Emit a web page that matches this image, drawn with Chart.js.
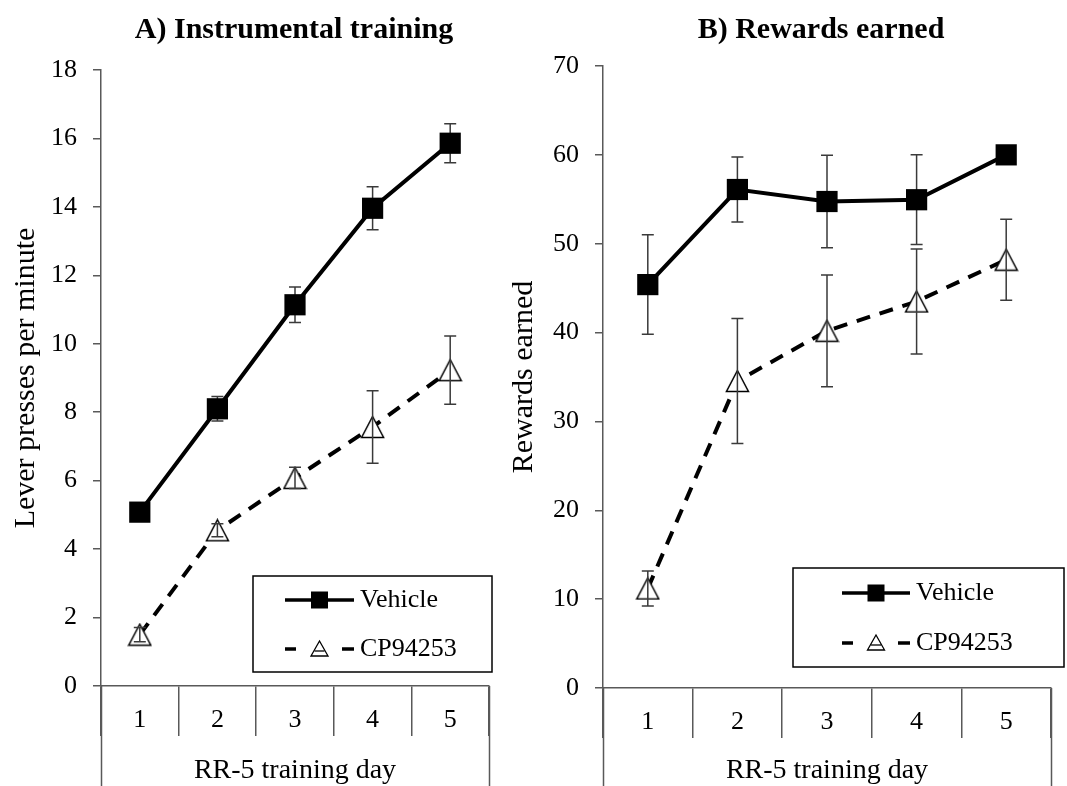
<!DOCTYPE html>
<html>
<head>
<meta charset="utf-8">
<script src="https://cdn.jsdelivr.net/npm/chart.js@4.4.1/dist/chart.umd.min.js"></script>
<style>
  html, body { margin: 0; padding: 0; background: #fff; }
  #wrap { position: relative; width: 1067px; height: 786px; overflow: hidden; }
  canvas { position: absolute; top: 0; }
  #chartA { left: 0; }
  #chartB { left: 505px; }
</style>
</head>
<body>
<div id="wrap">
  <canvas id="chartA" width="505" height="786"></canvas>
  <canvas id="chartB" width="562" height="786"></canvas>
</div>
<script>
const days = ['1', '2', '3', '4', '5'];
const seriesNames = ['Vehicle', 'CP94253'];
const xTitle = 'RR-5 training day';

// A) lever presses per minute (mean, +/- error)
const vehicleA = [5.08, 8.1, 11.14, 13.96, 15.86];
const vehicleAErr = [0.15, 0.36, 0.52, 0.63, 0.57];
const cpA = [1.5, 4.55, 6.08, 7.57, 9.23];
const cpAErr = [0.21, 0.19, 0.31, 1.06, 1.0];

// B) rewards earned
const vehicleB = [45.4, 56.1, 54.75, 54.95, 60.0];
const vehicleBErr = [5.6, 3.65, 5.2, 5.05, 0.4];
const cpB = [11.2, 34.55, 40.2, 43.5, 48.2];
const cpBErr = [1.96, 7.03, 6.29, 5.9, 4.56];

const FONT = "'Liberation Serif', 'Times New Roman', serif";
const AXIS = '#595959';
Chart.defaults.font.family = FONT;
Chart.defaults.color = '#000';

// open triangle marker, centred on its bounding box like the original
function triangleMarker(w, h, lw) {
  const c = document.createElement('canvas');
  c.width = Math.ceil(w + lw * 2);
  c.height = Math.ceil(h + lw * 2);
  const g = c.getContext('2d');
  g.beginPath();
  g.moveTo(c.width / 2, lw);
  g.lineTo(c.width - lw, lw + h);
  g.lineTo(lw, lw + h);
  g.closePath();
  g.fillStyle = '#fff';
  g.fill();
  g.lineWidth = lw;
  g.strokeStyle = '#000';
  g.stroke();
  return c;
}
const triImg = triangleMarker(22, 21, 1.5);

function drawErrors(chart, i) {
  const ds = chart.data.datasets[i];
  if (!ds.errors) return;
  const ctx = chart.ctx;
  const y = chart.scales.y;
  const meta = chart.getDatasetMeta(i);
  ctx.save();
  ctx.strokeStyle = '#3a3a3a';
  ctx.lineWidth = 1.5;
  meta.data.forEach((pt, j) => {
    const top = y.getPixelForValue(ds.data[j] + ds.errors[j]);
    const bot = y.getPixelForValue(ds.data[j] - ds.errors[j]);
    ctx.beginPath();
    ctx.moveTo(pt.x, top); ctx.lineTo(pt.x, bot);
    ctx.moveTo(pt.x - 6, top); ctx.lineTo(pt.x + 6, top);
    ctx.moveTo(pt.x - 6, bot); ctx.lineTo(pt.x + 6, bot);
    ctx.stroke();
  });
  ctx.restore();
}

// filled markers hide their bars, open markers show them
const errorBars = {
  id: 'errorBars',
  beforeDatasetDraw(chart, args) {
    if (chart.data.datasets[args.index].errorsBehind) drawErrors(chart, args.index);
  },
  afterDatasetDraw(chart, args) {
    if (!chart.data.datasets[args.index].errorsBehind) drawErrors(chart, args.index);
  }
};

// left / right frame lines run down past the category labels
const frameLines = {
  id: 'frameLines',
  afterDraw(chart) {
    const { ctx, chartArea: a } = chart;
    ctx.save();
    ctx.strokeStyle = AXIS;
    ctx.lineWidth = 1.5;
    ctx.beginPath();
    [a.left, a.right].forEach(x => {
      ctx.moveTo(Math.round(x) + 0.5, a.bottom);
      ctx.lineTo(Math.round(x) + 0.5, chart.height);
    });
    ctx.stroke();
    ctx.restore();
  }
};

const panelTitle = {
  id: 'panelTitle',
  afterDraw(chart, args, o) {
    const ctx = chart.ctx;
    ctx.save();
    ctx.font = 'bold 30px ' + FONT;
    ctx.fillStyle = '#000';
    ctx.textAlign = 'center';
    ctx.textBaseline = 'middle';
    ctx.fillText(o.text, o.x, o.y);
    ctx.restore();
  }
};

const boxLegend = {
  id: 'boxLegend',
  afterDraw(chart, args, o) {
    const ctx = chart.ctx;
    ctx.save();
    ctx.strokeStyle = '#000';
    ctx.lineWidth = 1.5;
    ctx.strokeRect(o.left, o.top, o.right - o.left, o.bottom - o.top);
    chart.data.datasets.forEach((ds, i) => {
      const y = o.rows[i];
      const mid = (o.x0 + o.x1) / 2;
      ctx.strokeStyle = '#000';
      ctx.lineWidth = 3.5;
      ctx.beginPath();
      if (ds.borderDash) {
        ctx.moveTo(o.x0, y); ctx.lineTo(o.x0 + 11, y);
        ctx.moveTo(o.x1 - 12, y); ctx.lineTo(o.x1, y);
      } else {
        ctx.moveTo(o.x0, y); ctx.lineTo(o.x1, y);
      }
      ctx.stroke();
      if (ds.pointStyle === 'rect') {
        ctx.fillStyle = '#000';
        ctx.fillRect(mid - 8.5, y - 8.5, 17, 17);
      } else {
        ctx.beginPath();
        ctx.moveTo(mid, y - 8);
        ctx.lineTo(mid + 8.5, y + 7);
        ctx.lineTo(mid - 8.5, y + 7);
        ctx.closePath();
        ctx.fillStyle = '#fff';
        ctx.fill();
        ctx.lineWidth = 1.3;
        ctx.stroke();
        ctx.beginPath();
        ctx.moveTo(mid - 5, y + 2);
        ctx.lineTo(mid + 5, y + 2);
        ctx.stroke();
      }
      ctx.fillStyle = '#000';
      ctx.font = '26px ' + FONT;
      ctx.textBaseline = 'middle';
      ctx.textAlign = 'left';
      ctx.fillText(ds.label, o.textX, y);
    });
    ctx.restore();
  }
};

function makeChart(id, p) {
  return new Chart(document.getElementById(id), {
    type: 'line',
    data: {
      labels: days,
      datasets: [
        {
          label: seriesNames[0],
          data: p.vehicle,
          errors: p.vehicleErr,
          errorsBehind: true,
          borderColor: '#000',
          borderWidth: 4,
          tension: 0,
          pointStyle: 'rect',
          pointRadius: 15,
          pointBackgroundColor: '#000',
          pointBorderColor: '#000',
          pointBorderWidth: 0
        },
        {
          label: seriesNames[1],
          data: p.cp,
          errors: p.cpErr,
          borderColor: '#000',
          borderWidth: 4,
          borderDash: [14, 10],
          tension: 0,
          pointStyle: triImg,
          pointRadius: 12
        }
      ]
    },
    options: {
      responsive: false,
      animation: false,
      layout: { padding: { top: p.top, right: p.right, left: 0, bottom: 0 } },
      scales: {
        x: {
          type: 'category',
          offset: true,
          grid: { offset: true, drawOnChartArea: false, drawTicks: true, tickLength: 50, color: AXIS, lineWidth: 1.5 },
          border: { display: true, color: AXIS, width: 1.5 },
          ticks: { font: { size: 26 }, color: '#000', padding: -31, maxRotation: 0, autoSkip: false },
          title: { display: true, text: xTitle, color: '#000', font: { size: 28, lineHeight: 1 }, padding: { top: 0, bottom: 1 } },
          afterFit: s => { s.height = p.axisH; }
        },
        y: {
          min: p.min,
          max: p.max,
          ticks: { stepSize: p.step, font: { size: 26 }, color: '#000', padding: 16 },
          grid: { drawOnChartArea: false, drawTicks: true, tickLength: 8, color: AXIS, lineWidth: 1.5 },
          border: { display: true, color: AXIS, width: 1.5 },
          title: { display: true, text: p.yTitle, color: '#000', font: { size: 30, lineHeight: 1.2 }, padding: { top: p.yTitlePad, bottom: 0 } },
          afterFit: s => { s.width = p.axisW; }
        }
      },
      plugins: {
        legend: { display: false },
        tooltip: { enabled: false },
        panelTitle: { text: p.title, x: p.titleX, y: 30 },
        boxLegend: p.legend
      }
    },
    plugins: [errorBars, frameLines, panelTitle, boxLegend]
  });
}

makeChart('chartA', {
  vehicle: vehicleA, vehicleErr: vehicleAErr, cp: cpA, cpErr: cpAErr,
  min: 0, max: 18, step: 2,
  yTitle: 'Lever presses per minute', yTitlePad: 8,
  title: 'A) Instrumental training', titleX: 294,
  top: 70, right: 10, axisW: 101, axisH: 100,
  legend: { left: 253, top: 576, right: 492, bottom: 672, rows: [600, 649], x0: 285, x1: 354, textX: 360 }
});

makeChart('chartB', {
  vehicle: vehicleB, vehicleErr: vehicleBErr, cp: cpB, cpErr: cpBErr,
  min: 0, max: 70, step: 10,
  yTitle: 'Rewards earned', yTitlePad: 1,
  title: 'B) Rewards earned', titleX: 316,
  top: 66, right: 1, axisW: 98, axisH: 98,
  legend: { left: 288, top: 568, right: 559, bottom: 667, rows: [593, 643], x0: 337, x1: 405, textX: 411 }
});
</script>
</body>
</html>
